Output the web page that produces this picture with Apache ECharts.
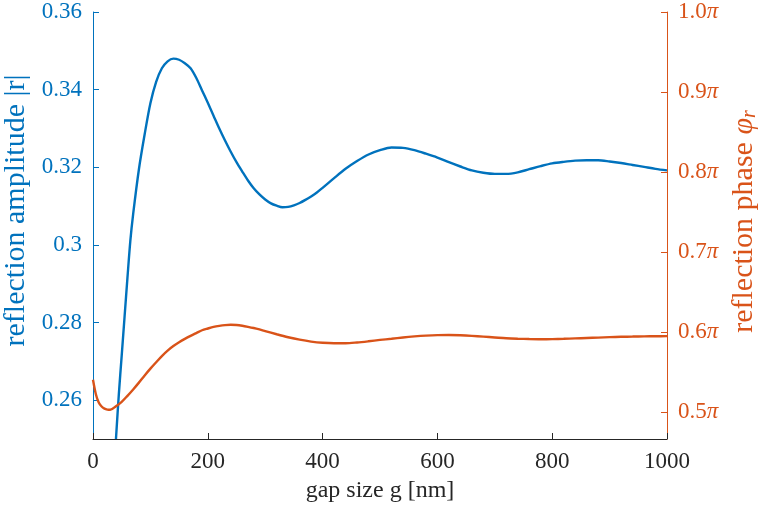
<!DOCTYPE html>
<html>
<head>
<meta charset="utf-8">
<script src="https://cdn.jsdelivr.net/npm/echarts@6/dist/echarts.min.js"></script>
<style>
  html, body { margin: 0; padding: 0; background: #fff; }
  #chart { width: 758px; height: 514px; }
</style>
</head>
<body>
<div id="chart"></div>
<script>
// Reflection amplitude |r| versus gap size g (nm)
const gapAmp = [40, 45, 50, 55, 60, 65, 70, 80, 90, 100, 110, 120, 130, 140, 150, 160, 170, 180, 190, 200,
  210, 220, 230, 240, 250, 260, 270, 280, 290, 300, 310, 320, 330, 340, 350, 360, 370, 380, 390, 400,
  420, 440, 460, 480, 500, 520, 540, 560, 580, 600, 620, 640, 660, 680, 700, 720, 740, 760, 780, 800,
  820, 840, 860, 880, 900, 920, 940, 960, 980, 1000];
const ampValues = [0.2500, 0.2615, 0.2715, 0.2815, 0.2915, 0.3010, 0.3080, 0.3195, 0.3285, 0.3365, 0.3420, 0.3455, 0.3473, 0.3480, 0.3477, 0.3468, 0.3455, 0.3430, 0.3398, 0.3366,
  0.3333, 0.3300, 0.3269, 0.3240, 0.3213, 0.3189, 0.3166, 0.3146, 0.3130, 0.3117, 0.3107, 0.3101, 0.3097, 0.3098, 0.3102, 0.3108, 0.3116, 0.3125, 0.3135, 0.3147,
  0.3172, 0.3196, 0.3216, 0.3233, 0.3244, 0.3251, 0.3250, 0.3244, 0.3235, 0.3225, 0.3213, 0.3202, 0.3192, 0.3186, 0.3183, 0.3183, 0.3187, 0.3195, 0.3203, 0.3210,
  0.3214, 0.3217, 0.3218, 0.3218, 0.3215, 0.3211, 0.3206, 0.3201, 0.3196, 0.3192];

// Reflection phase (in units of pi) versus gap size g (nm)
const gapPhase = [0, 5, 10, 15, 20, 25, 30, 40, 50, 60, 70, 80, 90, 100, 110, 120, 130, 140, 150, 160,
  170, 180, 190, 200, 210, 220, 230, 240, 250, 260, 270, 280, 290, 300, 320, 340, 360, 380, 400, 420,
  440, 460, 480, 500, 520, 540, 560, 580, 600, 620, 640, 660, 680, 700, 720, 740, 760, 780, 800, 820,
  840, 860, 880, 900, 920, 940, 960, 980, 1000];
const phaseValues = [0.5400, 0.5220, 0.5115, 0.5066, 0.5040, 0.5028, 0.5025, 0.5070, 0.5125, 0.5200, 0.5280, 0.5365, 0.5455, 0.5540, 0.5620, 0.5697, 0.5765, 0.5822, 0.5870, 0.5912,
  0.5950, 0.5985, 0.6020, 0.6042, 0.6062, 0.6075, 0.6084, 0.6088, 0.6085, 0.6076, 0.6063, 0.6048, 0.6030, 0.6010, 0.5970, 0.5933, 0.5902, 0.5878, 0.5863, 0.5857,
  0.5857, 0.5867, 0.5882, 0.5899, 0.5914, 0.5930, 0.5943, 0.5953, 0.5959, 0.5960, 0.5957, 0.5950, 0.5940, 0.5930, 0.5920, 0.5914, 0.5910, 0.5908, 0.5909, 0.5913,
  0.5918, 0.5923, 0.5928, 0.5934, 0.5938, 0.5941, 0.5944, 0.5945, 0.5946];

// Tick positions
const gapTicks = [0, 200, 400, 600, 800, 1000];
const ampTicks = [0.26, 0.28, 0.30, 0.32, 0.34, 0.36];
const phaseTicks = [0.5, 0.6, 0.7, 0.8, 0.9, 1.0];

const BLUE = '#0072BD';
const ORANGE = '#D95319';
const DARK = '#262626';
const FONT = '"Liberation Serif", "Times New Roman", serif';
const TICK_SIZE = 23;
const NAME_SIZE = 30;

const chart = echarts.init(document.getElementById('chart'), null, { renderer: 'canvas' });

const ampData = gapAmp.map((g, i) => [g, ampValues[i]]);
const phaseData = gapPhase.map((g, i) => [g, phaseValues[i]]);

chart.setOption({
  animation: false,
  backgroundColor: '#fff',
  grid: { left: 93, right: 91, top: 12, bottom: 75, containLabel: false, outerBoundsMode: 'none' },
  xAxis: {
    type: 'value',
    min: gapTicks[0], max: gapTicks[gapTicks.length - 1],
    name: 'gap size g [nm]',
    nameLocation: 'middle',
    nameGap: 40,
    nameTextStyle: { fontFamily: FONT, fontSize: 24, color: DARK },
    axisLine: { show: true, lineStyle: { color: DARK, width: 1 } },
    axisTick: { show: true, inside: true, length: 6, customValues: gapTicks, lineStyle: { color: DARK } },
    axisLabel: {
      fontFamily: FONT, fontSize: TICK_SIZE, color: DARK, margin: 11,
      customValues: gapTicks,
      formatter: v => String(v)
    },
    splitLine: { show: false }
  },
  yAxis: [
    {
      type: 'value',
      position: 'left',
      min: 0.25, max: 0.36,
      name: 'reflection amplitude |r|',
      nameLocation: 'middle',
      nameGap: 54,
      nameTextStyle: { fontFamily: FONT, fontSize: NAME_SIZE, color: BLUE, padding: [0, 0, 0, 30] },
      axisLine: { show: true, lineStyle: { color: BLUE, width: 1 } },
      axisTick: { show: true, inside: true, length: 6, customValues: ampTicks, lineStyle: { color: BLUE } },
      axisLabel: {
        fontFamily: FONT, fontSize: TICK_SIZE, color: BLUE, margin: 11,
        customValues: ampTicks,
        formatter: v => String(+v.toFixed(2))
      },
      splitLine: { show: false }
    },
    {
      type: 'value',
      position: 'right',
      min: 0.466, max: 1.0,
      name: 'reflection phase {i|φ}{s|r}',
      nameLocation: 'middle',
      nameGap: 61,
      nameTextStyle: {
        fontFamily: FONT, fontSize: NAME_SIZE, color: ORANGE, padding: [0, 0, 0, 8],
        rich: {
          i: { fontFamily: FONT, fontSize: NAME_SIZE, fontStyle: 'italic', color: ORANGE },
          s: { fontFamily: FONT, fontSize: 20, fontStyle: 'italic', color: ORANGE, verticalAlign: 'bottom', padding: [11, 0, 0, 0] }
        }
      },
      axisLine: { show: true, lineStyle: { color: ORANGE, width: 1 } },
      axisTick: { show: true, inside: true, length: 6, customValues: phaseTicks, lineStyle: { color: ORANGE } },
      axisLabel: {
        fontFamily: FONT, fontSize: TICK_SIZE, color: ORANGE, margin: 11,
        customValues: phaseTicks,
        formatter: v => '{n|' + v.toFixed(1) + '}{p|π}',
        rich: {
          n: { fontFamily: FONT, fontSize: TICK_SIZE, color: ORANGE },
          p: { fontFamily: FONT, fontSize: TICK_SIZE, fontStyle: 'italic', color: ORANGE }
        }
      },
      splitLine: { show: false }
    }
  ],
  series: [
    {
      type: 'line',
      yAxisIndex: 0,
      data: ampData,
      smooth: 0.3,
      showSymbol: false,
      clip: true,
      lineStyle: { color: BLUE, width: 2.4 },
      itemStyle: { color: BLUE }
    },
    {
      type: 'line',
      yAxisIndex: 1,
      data: phaseData,
      smooth: 0.3,
      showSymbol: false,
      clip: true,
      lineStyle: { color: ORANGE, width: 2.4 },
      itemStyle: { color: ORANGE }
    }
  ]
});
</script>
</body>
</html>
